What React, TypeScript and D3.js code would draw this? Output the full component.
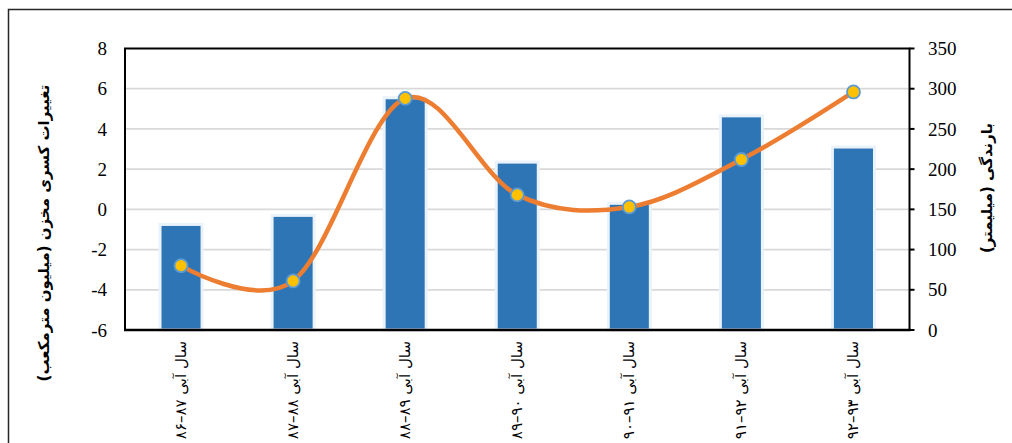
import React from "react";
import * as d3 from "d3";

const categories = [
  "سال آبی ۸۷–۸۶",
  "سال آبی ۸۸–۸۷",
  "سال آبی ۸۹–۸۸",
  "سال آبی ۹۰–۸۹",
  "سال آبی ۹۱–۹۰",
  "سال آبی ۹۲–۹۱",
  "سال آبی ۹۳–۹۲",
];
const storageChange = [-0.75, -0.3, 5.55, 2.35, 0.3, 4.65, 3.1];
const rainfall = [80, 61, 288, 168, 153, 212, 296];
const leftTicks = [-6, -4, -2, 0, 2, 4, 6, 8];
const rightTicks = [0, 50, 100, 150, 200, 250, 300, 350];
const leftTitle = "تغییرات کسری مخزن (میلیون مترمکعب)";
const rightTitle = "بارندگی (میلیمتر)";

export default function App() {
  const W = 1012, H = 443;
  const left = 125, right = 909.5, top = 48.5, bottom = 330;
  const x = d3.scaleBand<string>().domain(categories).range([left, right]).paddingInner(0.625).paddingOuter(0.3125);
  const yL = d3.scaleLinear().domain([-6, 8]).range([bottom, top]);
  const yR = d3.scaleLinear().domain([0, 350]).range([bottom, top]);
  const cx = (c: string) => (x(c) as number) + x.bandwidth() / 2;
  const pts: [number, number][] = categories.map((c, i) => [cx(c), yR(rainfall[i])]);
  const line = d3.line().curve(d3.curveCardinal.tension(0))(pts) as string;
  const serif = "Liberation Serif";
  const arabic = "DejaVu Sans";
  return (
    <svg width={W} height={H} style={{ position: "absolute", left: 0, top: 0, background: "#fff" }}>
      <rect x={8.5} y={9.5} width={1010} height={500} fill="#fff" stroke="#262626" strokeWidth={1.5} />
      {leftTicks.filter((t) => t > -6 && t < 8).map((t) => (
        <line key={t} x1={left} x2={right} y1={yL(t)} y2={yL(t)} stroke="#D9D9D9" strokeWidth={1.8} />
      ))}
      {categories.map((c, i) => (
        <rect
          key={c}
          x={x(c)}
          y={yL(storageChange[i])}
          width={x.bandwidth()}
          height={yL(-6) - yL(storageChange[i])}
          fill="#2E75B6"
          stroke="#EAF2FA"
          strokeWidth={3}
        />
      ))}
      <rect x={left} y={top} width={right - left} height={bottom - top} fill="none" stroke="#000" strokeWidth={2} />
      <line x1={left - 1} x2={right + 1} y1={bottom} y2={bottom} stroke="#000" strokeWidth={2.5} />
      {rightTicks.map((t) => (
        <line key={t} x1={right} x2={right + 5} y1={yR(t)} y2={yR(t)} stroke="#000" strokeWidth={2} />
      ))}
      <path d={line} fill="none" stroke="#ED7D31" strokeWidth={4.5} strokeLinecap="round" />
      {pts.map((p, i) => (
        <circle key={i} cx={p[0]} cy={p[1]} r={6.5} fill="#FFC000" stroke="#5B9BD5" strokeWidth={1.8} />
      ))}
      {leftTicks.map((t) => (
        <text key={t} x={107} y={yL(t)} dy="0.35em" textAnchor="end" style={{ fontFamily: serif }} fontSize={19} fill="#000">
          {t}
        </text>
      ))}
      {rightTicks.map((t) => (
        <text key={t} x={928} y={yR(t)} dy="0.35em" textAnchor="start" style={{ fontFamily: serif }} fontSize={19} fill="#000">
          {t}
        </text>
      ))}
      {categories.map((c) => (
        <text
          key={c}
          transform={`translate(${cx(c) + 5},341) rotate(-90)`}
          direction="rtl"
          textAnchor="start"
          style={{ fontFamily: arabic }}
          fontSize={15}
          fill="#000"
        >
          {c}
        </text>
      ))}
      <text
        transform="translate(49,233) rotate(-90)"
        direction="rtl"
        textAnchor="middle"
        style={{ fontFamily: arabic }}
        fontWeight="bold"
        fontSize={15}
        fill="#000"
      >
        {leftTitle}
      </text>
      <text
        transform="translate(992,188) rotate(-90)"
        direction="rtl"
        textAnchor="middle"
        style={{ fontFamily: arabic }}
        fontWeight="bold"
        fontSize={15}
        fill="#000"
      >
        {rightTitle}
      </text>
    </svg>
  );
}
